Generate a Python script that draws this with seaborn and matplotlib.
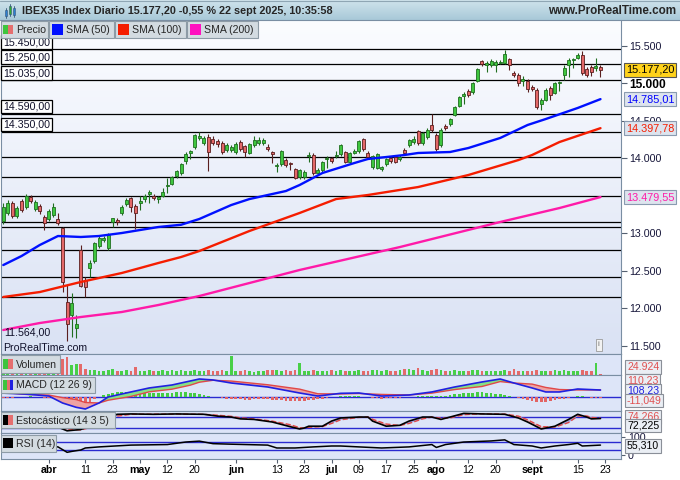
import numpy as np
import pandas as pd
import matplotlib
matplotlib.use('Agg')
import matplotlib.pyplot as plt
from matplotlib.patches import Rectangle
from matplotlib.colors import LinearSegmentedColormap
from matplotlib.transforms import blended_transform_factory
import seaborn as sns

sns.set_style('white')
plt.rcParams['font.family'] = ['Liberation Sans', 'DejaVu Sans']

# trading days on screen (Spanish market holidays removed), +1 day for the "23" tick
holidays = ['2025-04-18', '2025-04-21', '2025-05-01']
days = pd.bdate_range('2025-03-18', '2025-09-23', freq='C', holidays=holidays)
dates = days[:-1]

# daily candles
opens = [13160, 13267, 13400, 13227, 13427, 13347, 13480, 13320, 13360, 13213,
         13187, 13240, 13187, 13067, 12080, 11907, 11733, 12773, 12373, 12533,
         12627, 12827, 12907, 12800, 13147, 13173, 13267, 13387, 13467, 13360,
         13400, 13453, 13520, 13493, 13453, 13493, 13627, 13653, 13760, 13800,
         13960, 14067, 14147, 14267, 14200, 14280, 14253, 14227, 14200, 14107,
         14107, 14080, 14213, 14160, 14067, 14173, 14200, 14200, 14147, 14080,
         13893, 13920, 13973, 13933, 13853, 13747, 13747, 14027, 14040, 13800,
         13840, 13987, 14000, 14027, 14053, 14080, 13947, 14067, 14093, 14253,
         14067, 13880, 13867, 13853, 13920, 14000, 14013, 13987, 14107, 14173,
         14213, 14360, 14200, 14280, 14440, 14307, 14173, 14427, 14453, 14573,
         14693, 14827, 14893, 14880, 15027, 15293, 15240, 15240, 15240, 15267,
         15267, 15320, 15133, 15107, 15027, 15027, 14947, 14907, 14720, 14773,
         14933, 14867, 15000, 15107, 15240, 15307, 15333, 15373, 15187, 15213,
         15200, 15213]
highs = [13400, 13440, 13427, 13360, 13460, 13520, 13507, 13440, 13390, 13240,
         13320, 13400, 13267, 13080, 12307, 12200, 11907, 12840, 12413, 12640,
         12880, 12973, 12960, 13000, 13200, 13200, 13380, 13470, 13480, 13390,
         13493, 13520, 13573, 13520, 13500, 13600, 13733, 13760, 13840, 13940,
         14080, 14107, 14320, 14347, 14290, 14320, 14290, 14260, 14230, 14200,
         14170, 14210, 14240, 14180, 14200, 14290, 14280, 14270, 14190, 14100,
         13933, 14110, 14000, 13950, 13870, 13860, 13840, 14080, 14070, 13870,
         13960, 14030, 14020, 14100, 14190, 14100, 14080, 14120, 14240, 14270,
         14090, 14040, 14070, 13900, 14000, 14020, 14030, 14040, 14130, 14260,
         14290, 14380, 14350, 14400, 14587, 14330, 14400, 14450, 14540, 14700,
         14830, 14880, 14920, 15020, 15200, 15310, 15300, 15320, 15310, 15310,
         15440, 15340, 15160, 15130, 15093, 15050, 14970, 14930, 14800, 14930,
         14960, 15020, 15030, 15240, 15330, 15340, 15400, 15430, 15210, 15240,
         15333, 15240]
lows = [13120, 13240, 13200, 13200, 13280, 13320, 13400, 13300, 13260, 13040,
        13160, 13220, 13110, 12213, 11564, 11613, 11600, 12280, 12147, 12413,
        12600, 12800, 12880, 12780, 13080, 13110, 13240, 13360, 13280, 13053,
        13307, 13420, 13400, 13440, 13400, 13480, 13533, 13640, 13740, 13780,
        13920, 13987, 14120, 14240, 14170, 13827, 14170, 14150, 14050, 14080,
        14080, 14060, 14100, 14013, 14050, 14150, 14180, 14180, 14100, 13933,
        13813, 13900, 13880, 13840, 13720, 13720, 13720, 13947, 13780, 13780,
        13820, 13867, 13930, 14000, 14030, 13930, 13930, 14050, 14070, 14100,
        13990, 13860, 13850, 13830, 13900, 13940, 13930, 13960, 14040, 14150,
        14190, 14180, 14180, 14260, 14350, 14090, 14150, 14380, 14430, 14560,
        14680, 14720, 14820, 14860, 15010, 15230, 15147, 15220, 15147, 15250,
        15250, 15180, 15080, 14960, 14960, 14880, 14900, 14650, 14640, 14760,
        14780, 14850, 14893, 15040, 15080, 15200, 15320, 15110, 15080, 15100,
        15160, 15080]
closes = [13350, 13400, 13227, 13333, 13307, 13493, 13427, 13413, 13293, 13133,
          13293, 13347, 13133, 12347, 11787, 12067, 11787, 12293, 12280, 12600,
          12867, 12933, 12933, 12973, 13200, 13147, 13347, 13440, 13347, 13267,
          13427, 13493, 13547, 13467, 13480, 13547, 13640, 13747, 13827, 13920,
          14053, 14093, 14307, 14293, 14267, 14080, 14200, 14187, 14080, 14173,
          14147, 14187, 14120, 14080, 14187, 14240, 14240, 14240, 14120, 14053,
          13907, 14093, 13907, 13920, 13733, 13840, 13813, 14040, 13800, 13840,
          13947, 14000, 13960, 14040, 14173, 13947, 14067, 14093, 14227, 14120,
          14013, 14027, 14053, 13880, 13987, 13960, 13947, 14013, 14067, 14240,
          14253, 14200, 14333, 14373, 14373, 14120, 14373, 14400, 14520, 14680,
          14813, 14853, 14840, 15000, 15187, 15253, 15267, 15293, 15280, 15280,
          15387, 15240, 15107, 15000, 15053, 14920, 14920, 14680, 14773, 14907,
          14840, 15000, 15013, 15200, 15307, 15320, 15373, 15133, 15107, 15147,
          15227, 15177.2]

# volume (thousands)
volume = [50, 66, 50, 83, 50, 66, 50, 66, 83, 50, 66, 66, 83, 266, 300, 166, 183, 183, 100, 83,
          83, 66, 66, 83, 100, 66, 66, 83, 66, 133, 66, 66, 83, 66, 66, 83, 66, 83, 66, 83,
          66, 66, 83, 66, 66, 83, 66, 66, 83, 66, 315, 66, 66, 83, 66, 50, 66, 66, 83, 83,
          83, 66, 83, 66, 83, 200, 66, 66, 83, 66, 66, 66, 83, 66, 83, 66, 66, 66, 83, 66,
          66, 83, 83, 66, 83, 66, 66, 83, 100, 100, 83, 116, 83, 66, 83, 100, 83, 66, 66, 83,
          66, 66, 66, 83, 83, 66, 66, 66, 66, 66, 83, 66, 100, 66, 66, 66, 66, 83, 66, 66,
          66, 83, 66, 83, 66, 66, 66, 83, 66, 66, 200, 25]

# moving averages read at a few points
sma50_idx = [0, 4, 8, 12, 17, 21, 26, 30, 34, 39, 43, 50, 54, 62, 65, 70, 77, 80, 84, 88,
             91, 98, 102, 109, 115, 119, 126, 131]
sma50 = [12573, 12693, 12840, 12960, 12947, 12960, 13000, 13040, 13080, 13110, 13187, 13373,
         13453, 13560, 13640, 13800, 13933, 13987, 14013, 14040, 14067, 14080, 14133, 14267,
         14440, 14520, 14667, 14785.01]
sma100_idx = [0, 8, 17, 21, 26, 30, 34, 39, 43, 54, 65, 73, 80, 91, 102, 113, 116, 122, 131]
sma100 = [12147, 12213, 12347, 12400, 12467, 12533, 12600, 12680, 12760, 13027, 13267, 13453,
          13507, 13613, 13773, 13973, 14040, 14213, 14397.78]
sma200_idx = [0, 8, 17, 26, 34, 43, 65, 87, 109, 122, 131]
sma200 = [11707, 11800, 11880, 11947, 12040, 12160, 12507, 12813, 13147, 13333, 13479.55]

# support / resistance lines
levels = [15450, 15250, 15035, 14590, 14350, 14010, 13745, 13495, 13145, 13085, 12775, 12410, 12145]
labelled_levels = [15450, 15250, 15035, 14590, 14350]
# 13.500 sits under the SMA(200) box in the original, so it is not listed
price_ticks = [11500, 12000, 12500, 13000, 14000, 14500, 15000, 15500]

# MACD (12 26 9)
macd_idx = [0, 5, 10, 13, 16, 18, 21, 23, 28, 32, 37, 41, 43, 46, 50, 58, 65, 69, 74, 78,
            83, 89, 94, 99, 105, 109, 112, 116, 119, 122, 126, 131]
macd = [60, 45, 15, -93, -160, -186, -93, 0, 78, 140, 186, 248, 279, 264, 217, 155, 62, 15,
        57, 62, 15, 31, 78, 155, 233, 279, 217, 140, 78, 78, 124, 108]
signal = [70, 40, 30, -10, -40, -85, -93, -50, 8, 80, 121, 183, 229, 259, 247, 190, 122, 50,
          47, 54, 40, 31, 60, 115, 163, 239, 217, 200, 148, 116, 109, 110]
macd_hist = [-10, -12, -8, -5, 0, 5, 8, 3, -5, -10,
             -15, -20, -30, -70, -110, -130, -140, -120, -100, -70,
             -35, 0, 25, 50, 65, 70, 75, 75, 70, 60,
             60, 60, 60, 55, 55, 55, 60, 65, 70, 70,
             70, 65, 60, 50, 35, 20, 5, -5, -15, -25,
             -30, -35, -35, -40, -40, -35, -30, -30, -35, -40,
             -50, -50, -55, -60, -65, -60, -55, -45, -45, -35,
             -25, -15, -5, 5, 10, 10, 12, 10, 8, 5,
             -5, -15, -20, -25, -20, -15, -12, -8, -5, 0,
             5, 8, 10, 15, 18, 15, 15, 20, 30, 40,
             50, 55, 60, 65, 70, 70, 65, 60, 50, 40,
             30, 15, 0, -20, -35, -50, -60, -70, -72, -70,
             -62, -50, -38, -25, -10, 5, 15, 8, -2, -8,
             -10, -11]

# Estocastico (14 3 5)
stoch_idx = [0, 5, 9, 12, 14, 17, 20, 23, 25, 28, 33, 38, 44, 47, 50, 52, 55, 59, 63, 65,
             66, 67, 70, 72, 74, 78, 80, 81, 84, 87, 89, 92, 94, 96, 98, 101, 105, 110, 113, 115,
             118, 121, 124, 126, 128, 129, 131]
stoch_k = [55, 70, 35, 25, 5, 12, 40, 80, 95, 97, 95, 97, 95, 85, 80, 70, 67, 53, 27, 15,
           20, 30, 30, 58, 75, 80, 80, 58, 30, 35, 58, 80, 80, 67, 80, 100, 97, 95, 75, 53,
           15, 30, 67, 95, 80, 70, 72]
stoch_d = [60, 65, 45, 30, 12, 10, 28, 60, 85, 95, 96, 96, 95, 90, 84, 76, 70, 58, 38, 22,
           20, 24, 28, 45, 65, 78, 80, 68, 42, 34, 45, 70, 80, 74, 75, 93, 98, 96, 85, 65,
           28, 25, 50, 85, 86, 78, 74]

# RSI (14)
rsi_idx = [0, 5, 9, 12, 14, 15, 17, 18, 21, 28, 36, 40, 43, 46, 50, 58, 60, 64, 68, 72,
           74, 78, 83, 89, 94, 95, 97, 101, 107, 110, 112, 116, 118, 121, 124, 126, 127, 131]
rsi = [52, 55, 48, 45, 15, 20, 28, 39, 45, 55, 58, 72, 77, 63, 60, 55, 39, 39, 45, 50,
       50, 45, 39, 45, 58, 42, 58, 72, 78, 84, 58, 50, 39, 50, 58, 65, 50, 55]

tick_dates = ['2025-04-01', '2025-04-11', '2025-04-23', '2025-05-02', '2025-05-12', '2025-05-20',
              '2025-06-02', '2025-06-13', '2025-06-23', '2025-07-01', '2025-07-09', '2025-07-17',
              '2025-07-25', '2025-08-01', '2025-08-12', '2025-08-20', '2025-09-01', '2025-09-15',
              '2025-09-23']
tick_labels = ['abr', '11', '23', 'may', '12', '20', 'jun', '13', '23', 'jul', '09', '17',
               '25', 'ago', '12', '20', 'sept', '15', '23']
months = ['abr', 'may', 'jun', 'jul', 'ago', 'sept']


def es(v, d=2):
    s = f'{v:,.{d}f}'
    return s.replace(',', '#').replace('.', ',').replace('#', '.')


W, H = 680.0, 480.0
fig = plt.figure(figsize=(6.8, 4.8), dpi=100)
fig.patch.set_facecolor('white')


def px_axes(x0, y0, x1, y1):
    return fig.add_axes([x0 / W, 1 - y1 / H, (x1 - x0) / W, (y1 - y0) / H])


x = np.arange(len(dates))
o, h, l, c = map(np.array, (opens, highs, lows, closes))
up = c >= o
XL = (-0.5, 135.5)
frame = '#7a8ea3'
sub_bg = '#dde5f8'


def style_panel(a, bg=None):
    if bg:
        a.set_facecolor(bg)
    for s in a.spines.values():
        s.set_color(frame)
        s.set_linewidth(0.8)
    a.set_xticks([])
    a.set_yticks([])


# ---- price panel ----
ax = px_axes(1, 20, 621, 354)
style_panel(ax)
bg = LinearSegmentedColormap.from_list('bg', ['#fbfcff', '#dae2f4'])
ax.imshow(np.linspace(0, 1, 200).reshape(-1, 1), extent=(0, 1, 0, 1), transform=ax.transAxes,
          cmap=bg, aspect='auto', zorder=0)
for lv in levels:
    ax.axhline(lv, color='black', lw=0.9, zorder=2)

edge_c = np.where(up, '#1f6e1f', '#5a1f1f').tolist()
ax.vlines(x, l, h, colors=edge_c, lw=0.8, zorder=3)
ax.bar(x, np.maximum(np.abs(c - o), 6), bottom=np.minimum(o, c), width=0.66,
       color=np.where(up, '#3fc63f', '#e36868').tolist(), edgecolor=edge_c, linewidth=0.6, zorder=4)

sns.lineplot(x=sma200_idx, y=sma200, ax=ax, color='#ff1aa8', lw=1.7, estimator=None, sort=False,
             legend=False, zorder=5)
sns.lineplot(x=sma100_idx, y=sma100, ax=ax, color='#f51d00', lw=1.7, estimator=None, sort=False,
             legend=False, zorder=5)
sns.lineplot(x=sma50_idx, y=sma50, ax=ax, color='#0010ff', lw=1.7, estimator=None, sort=False,
             legend=False, zorder=5)
ax.set_xlim(*XL)
ax.set_ylim(11387, 15840)
ax.set_xlabel('')
ax.set_ylabel('')
ax.spines['top'].set_visible(False)

ax.yaxis.tick_right()
ax.set_yticks(price_ticks)
ax.set_yticklabels([es(v, 0) for v in price_ticks])
ax.tick_params(axis='y', right=True, left=False, length=4, width=0.8, colors='#556070',
               labelsize=7.7, labelcolor='#16163a', pad=2)
for t in ax.get_yticklabels():
    if t.get_text() == '15.000':
        t.set_fontweight('bold')
        t.set_fontsize(8.6)
        t.set_color('black')

trans = blended_transform_factory(ax.transAxes, ax.transData)
for lv in labelled_levels:
    ax.annotate(es(lv), xy=(0, lv), xycoords=trans, xytext=(1.6, 1.6), textcoords='offset points',
                ha='left', va='bottom', fontsize=7.7, color='#10102a', zorder=6,
                bbox=dict(boxstyle='square,pad=0.18', fc='white', ec='black', lw=0.9))
ax.annotate(es(min(lows)), xy=(0, min(lows)), xycoords=trans, xytext=(2, 2.5),
            textcoords='offset points', ha='left', va='bottom', fontsize=7.7, color='#10102a', zorder=6)
ax.text(0.004, 0.004, 'ProRealTime.com', transform=ax.transAxes, ha='left', va='bottom',
        fontsize=7.6, color='#10102a', zorder=6)
ax.text(0.964, 0.027, 'i', transform=ax.transAxes, ha='center', va='center', fontsize=6,
        color='#777777', zorder=6,
        bbox=dict(boxstyle='square,pad=0.25', fc='#f2f2f2', ec='#9a9a9a', lw=0.6))


def price_box(y, txt, tc, fc, ec):
    ax.text(1.008, y, txt, transform=trans, ha='left', va='center', fontsize=7.8, color=tc,
            clip_on=False, zorder=10,
            bbox=dict(boxstyle='square,pad=0.17', fc=fc, ec=ec, lw=0.8))


price_box(closes[-1], es(closes[-1]), 'black', '#ffd21a', '#555555')
price_box(sma50[-1], es(sma50[-1]), '#0000ff', '#dde4ee', '#8a9bb0')
price_box(sma100[-1], es(sma100[-1]), '#f51d00', '#dde4ee', '#8a9bb0')
price_box(sma200[-1], es(sma200[-1]), '#ff1aa8', '#dde4ee', '#8a9bb0')

# ---- volume ----
axv = px_axes(1, 354, 621, 375)
style_panel(axv, sub_bg)
axv.bar(x, volume, width=0.6, color=np.where(up, '#48d048', '#e46a6a').tolist(), lw=0, zorder=3)
axv.set_xlim(*XL)
axv.set_ylim(0, 350)

# ---- MACD ----
axm = px_axes(1, 375, 621, 411)
style_panel(axm, sub_bg)
axm.bar(x, macd_hist, width=0.6, color=['#44cc44' if v >= 0 else '#e36464' for v in macd_hist],
        lw=0, zorder=3)
axm.axhline(0, color='#2a2ad0', lw=1, zorder=2)
mi, mv, sv = np.array(macd_idx), np.array(macd), np.array(signal)
axm.fill_between(mi, mv, sv, where=mv >= sv, interpolate=True, color='#86e086', lw=0, zorder=4)
axm.fill_between(mi, mv, sv, where=mv < sv, interpolate=True, color='#eea3a3', lw=0, zorder=4)
sns.lineplot(x=macd_idx, y=signal, ax=axm, color='#e04848', lw=1.0, estimator=None, sort=False,
             legend=False, zorder=5)
sns.lineplot(x=macd_idx, y=macd, ax=axm, color='#2020e0', lw=1.2, estimator=None, sort=False,
             legend=False, zorder=6)
axm.set_xlim(*XL)
axm.set_ylim(-217, 341)
axm.set_xlabel('')

# ---- Estocastico ----
axs = px_axes(1, 411, 621, 433)
style_panel(axs, sub_bg)
for lv in (80, 20):
    axs.axhline(lv, color='#2a2ad0', lw=1, zorder=2)
si, kv, dv = np.array(stoch_idx), np.array(stoch_k), np.array(stoch_d)
axs.fill_between(si, kv, dv, where=kv >= dv, interpolate=True, color='#a4a4e0', lw=0, zorder=3)
axs.fill_between(si, kv, dv, where=kv < dv, interpolate=True, color='#e8a8b4', lw=0, zorder=3)
sns.lineplot(x=stoch_idx, y=stoch_d, ax=axs, color='#e04848', lw=1.0, linestyle='--',
             estimator=None, sort=False, legend=False, zorder=4)
sns.lineplot(x=stoch_idx, y=stoch_k, ax=axs, color='black', lw=1.2, estimator=None, sort=False,
             legend=False, zorder=5)
axs.set_xlim(*XL)
axs.set_ylim(-7, 113)
axs.set_xlabel('')

# ---- RSI ----
axr = px_axes(1, 433, 621, 459)
style_panel(axr, sub_bg)
for lv in (70, 30):
    axr.axhline(lv, color='#2a2ad0', lw=1, zorder=2)
sns.lineplot(x=rsi_idx, y=rsi, ax=axr, color='black', lw=1.1, estimator=None, sort=False,
             legend=False, zorder=4)
axr.set_xlim(*XL)
axr.set_ylim(-22, 122)
axr.set_xlabel('')
axr.yaxis.tick_right()
axr.set_yticks([0, 100])
axr.set_yticklabels(['0', '100'])
axr.tick_params(axis='y', right=True, left=False, length=3, width=0.8, colors='#556070',
                labelsize=7.7, labelcolor='#16163a', pad=2)
tick_pos = days.get_indexer(pd.to_datetime(tick_dates))
axr.set_xticks(tick_pos)
axr.set_xticklabels(tick_labels)
axr.tick_params(axis='x', bottom=True, length=3, width=0.8, colors='#556070', labelsize=7.7,
                labelcolor='black', pad=1.5)
for t in axr.get_xticklabels():
    if t.get_text() in months:
        t.set_fontweight('bold')

# ---- overlay: title bar, legends, panel labels ----
ov = fig.add_axes([0, 0, 1, 1])
ov.patch.set_visible(False)
ov.axis('off')
tcmap = LinearSegmentedColormap.from_list('tb', ['#cfe3ec', '#a8c9d8'])
ov.imshow(np.linspace(0, 1, 40).reshape(-1, 1), extent=(0, W, 20, 0), cmap=tcmap, aspect='auto',
          zorder=1)
ov.set_xlim(0, W)
ov.set_ylim(H, 0)
ov.plot([0, W], [20, 20], color=frame, lw=0.8, zorder=2)
ov.plot([0, W], [0.5, 0.5], color='#8fa6b4', lw=0.8, zorder=2)
for xx, y0, y1, col in [(6, 10, 16, '#2e7fd0'), (10, 6, 14, '#2eaa2e'), (14, 8, 15, '#2e7fd0')]:
    ov.plot([xx, xx], [y0 - 2, y1 + 2], color='#335577', lw=0.6, zorder=3)
    ov.add_patch(Rectangle((xx - 1.2, y0), 2.4, y1 - y0, fc=col, ec='#335577', lw=0.4, zorder=4))
ov.text(22, 11, 'IBEX35 Index Diario ' + es(closes[-1]) + ' -0,55 % 22 sept 2025, 10:35:58',
        fontsize=7.8, fontweight='bold', va='center', ha='left', zorder=5)
ov.text(676, 11, 'www.ProRealTime.com', fontsize=8.4, fontweight='bold', va='center', ha='right',
        zorder=5)

box_fc, box_ec = '#d3dbe1', '#8d9ba6'


def box(x0, y0, x1, y1, fc=box_fc, ec=box_ec, lw=0.8):
    ov.add_patch(Rectangle((x0, y0), x1 - x0, y1 - y0, fc=fc, ec=ec, lw=lw, zorder=6))


def chip(x0, y0, x1, y1, col):
    ov.add_patch(Rectangle((x0, y0), x1 - x0, y1 - y0, fc=col, ec='none', zorder=7))


box(0.5, 21, 48, 38)
chip(3, 25, 8, 34, '#3ec43e')
chip(8, 25, 13, 34, '#e56f6f')
ov.text(16, 29.8, 'Precio', fontsize=7.6, va='center', zorder=8)
for x0, x1, col, name in [(49, 114, '#0010ff', 'SMA (50)'), (115, 186, '#f51d00', 'SMA (100)'),
                          (187, 258, '#ff10c0', 'SMA (200)')]:
    box(x0, 21, x1, 38)
    chip(x0 + 3, 24, x0 + 14, 35, col)
    ov.text(x0 + 17, 29.8, name, fontsize=7.6, va='center', zorder=8)

box(0.5, 355, 60, 373)
chip(3, 359, 8, 369, '#3ec43e')
chip(8, 359, 13, 369, '#e56f6f')
ov.text(16, 364.5, 'Volumen', fontsize=7.6, va='center', zorder=8)
box(0.5, 377, 95, 393)
chip(3, 380, 6.5, 390, '#3ec43e')
chip(6.5, 380, 10, 390, '#e56f6f')
chip(10, 380, 13, 390, '#2020e0')
ov.text(16, 385.5, 'MACD (12 26 9)', fontsize=7.6, va='center', zorder=8)
box(0.5, 412, 115, 428)
chip(3, 415, 8, 425, 'black')
chip(8, 415, 13, 425, '#e56f6f')
ov.text(16, 420.5, 'Estocástico (14 3 5)', fontsize=7.6, va='center', zorder=8)
box(0.5, 435, 56, 452)
chip(3, 438, 13, 448, 'black')
ov.text(16, 443.8, 'RSI (14)', fontsize=7.6, va='center', zorder=8)

# right-hand value boxes of the indicator panels
side = [(367, '24.924', '#e05050'), (381, '110.23', '#e05050'), (390.5, '108.23', '#2020e0'),
        (400.5, '-11,049', '#e05050'), (417, '74.266', '#e05050'), (425.5, '72,225', 'black'),
        (446, '55,310', 'black')]
for yy, txt, col in side:
    ov.text(627, yy, txt, fontsize=7.6, color=col, va='center', ha='left', zorder=8,
            bbox=dict(boxstyle='square,pad=0.15', fc='#eaeef4', ec='#8a8f98', lw=0.8))

fig.savefig('out.png', dpi=100)
